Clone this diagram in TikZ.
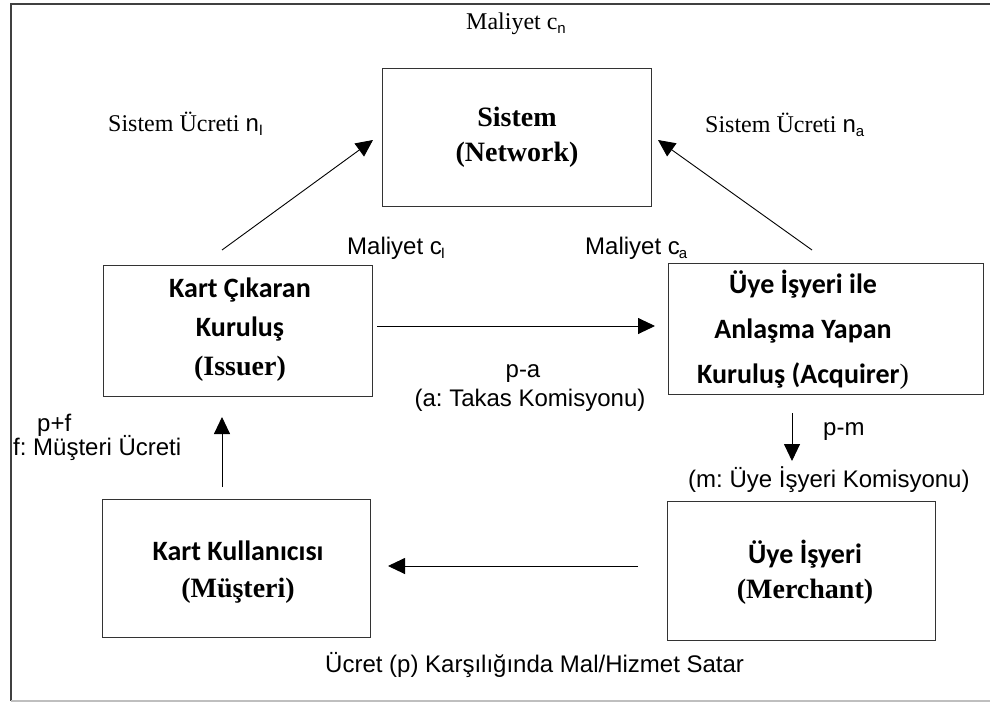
\documentclass[tikz,border=0pt]{standalone}
\usepackage{fontspec}
\setmainfont{Liberation Serif}
\newfontfamily\arial{Liberation Sans}
\newfontfamily\calibri{Carlito}
\usetikzlibrary{arrows.meta}
\newcommand\mysub[1]{\raisebox{-4pt}{\arial\fontsize{15}{15}\selectfont #1}}
\frenchspacing
\begin{document}
\frenchspacing
\begin{tikzpicture}[x=1pt,y=-1pt,
  box/.style={draw=black!80,line width=0.9pt,inner sep=0pt},
  serlab/.style={inner sep=0pt,font=\frenchspacing\fontsize{24}{28}\selectfont},
  sanlab/.style={inner sep=0pt,font=\frenchspacing\arial\fontsize{24}{28}\selectfont},
  arr/.style={-{Triangle[length=17pt,width=16pt]},line width=0.9pt,black}]
\useasboundingbox (0,0) rectangle (990,704);
\fill[white] (0,0) rectangle (990,704);
% frame
\draw[black!75,line width=1.2pt] (990,4) -- (11,4) -- (11,701);
\draw[black!25,line width=1.2pt] (11,701) -- (990,701);
% boxes
\node[box,minimum width=269pt,minimum height=138pt] (sys) at (516.5,137) {};
\node[box,minimum width=269pt,minimum height=131pt] (iss) at (237.5,330.5) {};
\node[box,minimum width=315pt,minimum height=131pt] (acq) at (825.5,328.5) {};
\node[box,minimum width=268pt,minimum height=138pt] (cus) at (236,568) {};
\node[box,minimum width=268pt,minimum height=139pt] (mer) at (801,570.5) {};
% box texts
\node[align=center,inner sep=0pt,font=\fontsize{28}{35}\selectfont\bfseries] (systxt) at (517,137) {Sistem\\(Network)};
\node[align=center,inner sep=0pt,font=\fontsize{28}{39}\selectfont\bfseries] (isstxt) at (240,330) {{\calibri Kart Çıkaran}\\{\calibri Kuruluş}\\(Issuer)};
\node[align=center,inner sep=0pt,font=\fontsize{28}{45}\selectfont\bfseries] (acqtxt) at (803,330) {{\calibri Üye İşyeri ile}\\{\calibri Anlaşma Yapan}\\{\calibri Kuruluş (Acquirer}{\mdseries)}};
\node[align=center,inner sep=0pt,font=\fontsize{28}{37}\selectfont\bfseries] (custxt) at (238,572) {{\calibri Kart Kullanıcısı}\\(Müşteri)};
\node[align=center,inner sep=0pt,font=\fontsize{28}{35}\selectfont\bfseries] (mertxt) at (805,572) {{\calibri Üye İşyeri}\\(Merchant)};
% labels
\node[serlab,anchor=base] (mcn) at (516,29) {Maliyet c\mysub{n}};
\node[serlab,anchor=base west] (sni) at (108,131) {Sistem Ücreti {\arial n}\mysub{I}};
\node[serlab,anchor=base west] (sna) at (705,132) {Sistem Ücreti {\arial n}\mysub{a}};
\node[sanlab,anchor=base west] (mci) at (347,254) {Maliyet c\kern-1pt\mysub{I}};
\node[sanlab,anchor=base west] (mca) at (585,254) {Maliyet c\kern-1pt\mysub{a}};
\node[sanlab,anchor=base] (pa) at (523,377) {p-a};
\node[sanlab,anchor=base] (ta) at (530,406) {(a: Takas Komisyonu)};
\node[sanlab,anchor=base west] (pm) at (823,435) {p-m};
\node[sanlab,anchor=base west] (um) at (688,487) {(m: Üye İşyeri Komisyonu)};
\node[sanlab,anchor=base west] (pf) at (37,431) {p+f};
\node[sanlab,anchor=base west] (fm) at (13,455) {f: Müşteri Ücreti};
\node[sanlab,anchor=base west] (us) at (325,672) {Ücret (p) Karşılığında Mal/Hizmet Satar};
% connector end points
\coordinate (issUp) at (222,250);
\coordinate (sysL) at (373,140);
\coordinate (acqUp) at (812,250);
\coordinate (sysR) at (658,140);
\coordinate (issR) at (377,326);
\coordinate (acqL) at (655,326);
\coordinate (acqDn) at (792,413);
\coordinate (merUp) at (792,461);
\coordinate (merL) at (638,566);
\coordinate (cusR) at (388,566);
\coordinate (cusUp) at (222,487);
\coordinate (issDn) at (222,417);
% connectors
\draw[arr] (issUp) -- (sysL);
\draw[arr] (acqUp) -- (sysR);
\draw[arr] (issR) -- (acqL);
\draw[arr] (acqDn) -- (merUp);
\draw[arr] (merL) -- (cusR);
\draw[arr] (cusUp) -- (issDn);
\end{tikzpicture}
\end{document}
